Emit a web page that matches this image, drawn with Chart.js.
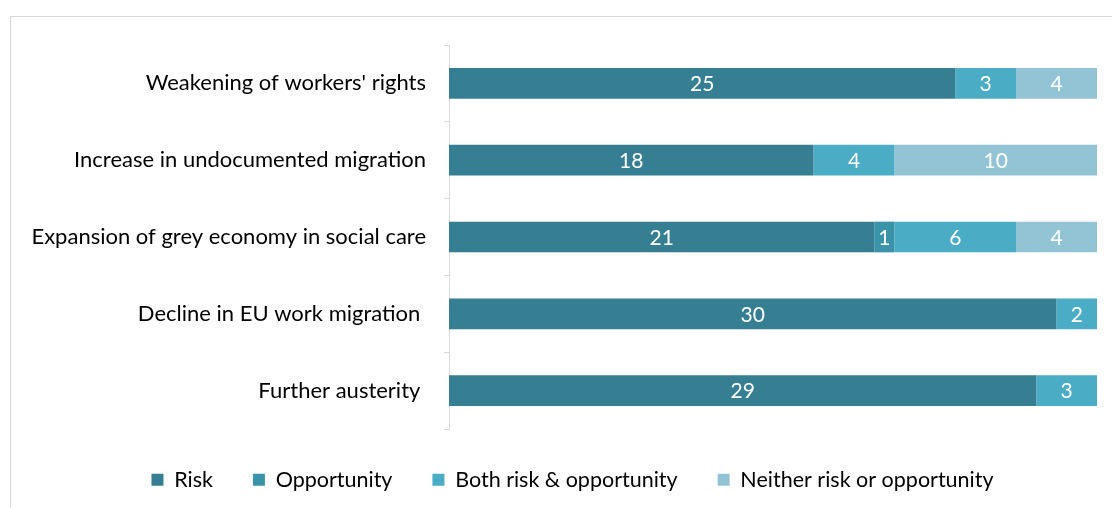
<!DOCTYPE html>
<html>
<head>
<meta charset="utf-8">
<script src="https://cdn.jsdelivr.net/npm/chart.js@4/dist/chart.umd.min.js"></script>
<style>
  html, body { margin: 0; padding: 0; background: #fff; }
  #wrap { position: relative; width: 1112px; height: 508px; overflow: hidden; }
  #frame { position: absolute; left: 10px; top: 16px; width: 1200px; height: 600px; border: 1px solid #d9d9d9; }
  canvas { position: absolute; left: 0; top: 0; }
</style>
</head>
<body>
<div id="wrap">
  <div id="frame"></div>
  <canvas id="chart" width="1112" height="508"></canvas>
</div>
<script>
// Categorias del grafico
const categorias = [
  "Weakening of workers' rights",
  "Increase in undocumented migration",
  "Expansion of grey economy in social care",
  "Decline in EU work migration ",
  "Further austerity "
];

// Valores por serie
const riesgo       = [25, 18, 21, 30, 29];
const oportunidad  = [0, 0, 1, 0, 0];
const ambos        = [3, 4, 6, 2, 3];
const ninguno      = [4, 10, 4, 0, 0];

const FUENTE = "Lato, 'Open Sans', sans-serif";

// Etiquetas blancas dentro de cada segmento
const etiquetasPlugin = {
  id: 'etiquetas',
  afterDatasetsDraw(chart) {
    const ctx = chart.ctx;
    ctx.save();
    ctx.fillStyle = '#ffffff';
    ctx.font = '21px ' + FUENTE;
    ctx.textAlign = 'center';
    ctx.textBaseline = 'middle';
    chart.data.datasets.forEach((ds, i) => {
      const meta = chart.getDatasetMeta(i);
      meta.data.forEach((bar, j) => {
        const v = ds.data[j];
        if (!v) return;
        const x = (bar.x + bar.base) / 2;
        ctx.fillText(String(v), x, bar.y + 1);
      });
    });
    ctx.restore();
  }
};

// Desplaza la leyenda un poco a la derecha, como en el original
const leyendaPlugin = {
  id: 'moverLeyenda',
  afterLayout(chart) {
    if (chart.legend) {
      chart.legend.left += 24;
      chart.legend.right += 24;
    }
  }
};

new Chart(document.getElementById('chart'), {
  type: 'bar',
  data: {
    labels: categorias,
    datasets: [
      { label: 'Risk', data: riesgo, backgroundColor: '#367f93' },
      { label: 'Opportunity', data: oportunidad, backgroundColor: '#3b93a9' },
      { label: 'Both risk & opportunity', data: ambos, backgroundColor: '#4bacc6' },
      { label: 'Neither risk or opportunity', data: ninguno, backgroundColor: '#92c4d5' }
    ]
  },
  options: {
    indexAxis: 'y',
    responsive: false,
    animation: false,
    layout: { padding: { top: 45, right: 15, left: 0, bottom: 7.5 } },
    datasets: {
      bar: { categoryPercentage: 1, barPercentage: 0.4, borderWidth: 0 }
    },
    scales: {
      x: {
        stacked: true,
        min: 0,
        max: 32,
        display: false
      },
      y: {
        stacked: true,
        afterFit(scale) { scale.width = 449; },
        border: { display: true, color: '#d9d9d9', width: 1 },
        grid: { offset: true, drawOnChartArea: false, tickLength: 5, color: '#d9d9d9' },
        ticks: { color: '#000', padding: 18, font: { family: FUENTE, size: 22 } }
      }
    },
    plugins: {
      legend: {
        position: 'bottom',
        labels: {
          color: '#000',
          boxWidth: 12,
          boxHeight: 12,
          padding: 40,
          font: { family: FUENTE, size: 21.5 }
        }
      },
      tooltip: { enabled: false }
    }
  },
  plugins: [etiquetasPlugin, leyendaPlugin]
});
</script>
</body>
</html>
